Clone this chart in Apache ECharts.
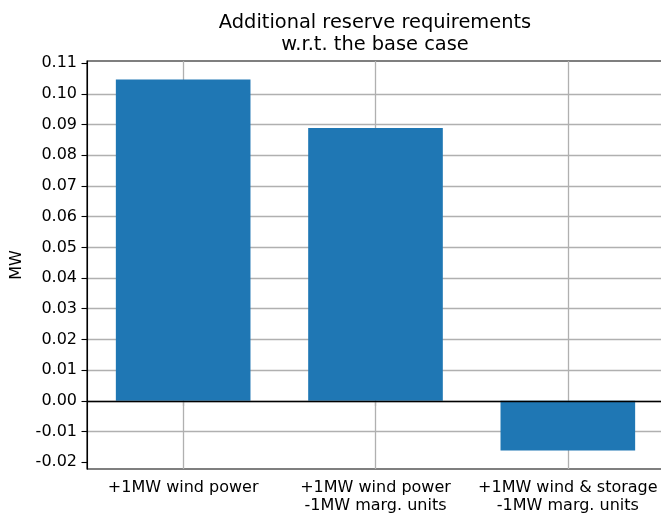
<!DOCTYPE html>
<html>
<head>
<meta charset="utf-8">
<script src="https://cdn.jsdelivr.net/npm/echarts@6/dist/echarts.min.js"></script>
<style>
  html, body { margin: 0; padding: 0; background: #fff; }
  #chart { width: 661px; height: 514px; }
</style>
</head>
<body>
<div id="chart"></div>
<script>
// Scenario labels (two-line category names)
const categories = [
  '+1MW wind power',
  '+1MW wind power\n-1MW marg. units',
  '+1MW wind & storage\n-1MW marg. units'
];
// Additional reserve requirement for each scenario, MW
const reserveMW = [0.1047, 0.0889, -0.0162];
// Tick values shown on the MW axis
const yTicks = [-0.02, -0.01, 0.00, 0.01, 0.02, 0.03, 0.04, 0.05, 0.06, 0.07, 0.08, 0.09, 0.10, 0.11];

// Axis limits padded by 5% of the data span
const dataMin = Math.min(0, ...reserveMW);
const dataMax = Math.max(0, ...reserveMW);
const pad = (dataMax - dataMin) * 0.05;
const yMin = dataMin - pad;
const yMax = dataMax + pad;

const FONT = 'DejaVu Sans';
const GRID = '#b0b0b0';

const chart = echarts.init(document.getElementById('chart'), null, { renderer: 'canvas' });
chart.setOption({
  animation: false,
  backgroundColor: '#ffffff',
  title: {
    text: 'Additional reserve requirements\nw.r.t. the base case',
    left: 370,
    textAlign: 'center',
    top: 7,
    textStyle: { fontFamily: FONT, fontSize: 19.4, fontWeight: 'normal', color: '#000', lineHeight: 22 }
  },
  grid: {
    left: 87, top: 61, width: 577, height: 408,
    outerBoundsMode: 'none',
    containLabel: false,
    show: true, borderColor: '#000', borderWidth: 1.1, backgroundColor: 'transparent'
  },
  xAxis: {
    type: 'category',
    data: categories,
    axisLine: { lineStyle: { color: '#000', width: 1.1 } },
    axisTick: { show: true, alignWithLabel: true, length: 5.5, lineStyle: { color: '#000', width: 1.1 } },
    axisLabel: {
      fontFamily: FONT, fontSize: 16, color: '#000', margin: 10, lineHeight: 18, interval: 0
    },
    splitLine: { show: false }
  },
  yAxis: {
    type: 'value',
    min: yMin,
    max: yMax,
    name: 'MW',
    nameLocation: 'middle',
    nameGap: 57,
    nameRotate: 90,
    nameTextStyle: { fontFamily: FONT, fontSize: 16, color: '#000' },
    axisLine: { show: true, lineStyle: { color: '#000', width: 1.1 } },
    axisTick: { show: true, length: 5.5, lineStyle: { color: '#000', width: 1.1 }, customValues: yTicks },
    axisLabel: {
      fontFamily: FONT, fontSize: 16, color: '#000', margin: 10,
      customValues: yTicks,
      formatter: v => v.toFixed(2)
    },
    splitLine: { show: true, showMinLine: false, showMaxLine: false, lineStyle: { color: GRID, width: 1.3 } }
  },
  series: [{
    type: 'bar',
    data: reserveMW,
    barWidth: '70%',
    itemStyle: { color: '#1f77b4' },
    markLine: {
      silent: true,
      symbol: 'none',
      z: 1,
      label: { show: false },
      lineStyle: { color: GRID, width: 1.3, type: 'solid' },
      data: categories.map(c => ({ xAxis: c }))
    }
  }, {
    // zero reference line
    type: 'line',
    data: [],
    markLine: {
      silent: true,
      symbol: 'none',
      z: 5,
      label: { show: false },
      lineStyle: { color: '#000', width: 1.3, type: 'solid' },
      data: [{ yAxis: 0 }]
    }
  }]
});
</script>
</body>
</html>
